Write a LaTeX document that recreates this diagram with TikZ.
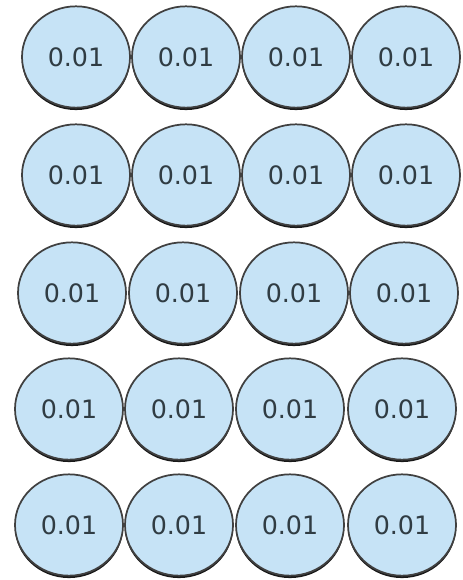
\documentclass[tikz,border=0pt]{standalone}
\usepackage{fontspec}
\usetikzlibrary{shapes.geometric,shadows}
\newfontfamily\cellfont{DejaVu Sans}
\definecolor{cellblue}{HTML}{C6E3F6}
\definecolor{celltext}{HTML}{303C43}
\begin{document}
\begin{tikzpicture}[
  x=0.75pt, y=-0.75pt,
  cell/.style={ellipse, draw=black!75, line width=1.3pt, fill=cellblue,
    minimum width=81pt, minimum height=76pt, inner sep=0pt,
    text=celltext, font=\cellfont\fontsize{19}{19}\selectfont,
    drop shadow={shadow xshift=0pt, shadow yshift=-1.8pt, fill=black, opacity=0.9}}
]
  \useasboundingbox (0,0) rectangle (462,580);
  % Mřížka pravděpodobností 5 x 4
  \node[cell] (a1) at (76, 57) {0.01};
  \node[cell] (a2) at (186, 57) {0.01};
  \node[cell] (a3) at (296, 57) {0.01};
  \node[cell] (a4) at (406, 57) {0.01};
  \node[cell] (b1) at (76, 175) {0.01};
  \node[cell] (b2) at (186, 175) {0.01};
  \node[cell] (b3) at (296, 175) {0.01};
  \node[cell] (b4) at (406, 175) {0.01};
  \node[cell] (c1) at (72, 293) {0.01};
  \node[cell] (c2) at (183, 293) {0.01};
  \node[cell] (c3) at (294, 293) {0.01};
  \node[cell] (c4) at (404, 293) {0.01};
  \node[cell] (d1) at (69, 409) {0.01};
  \node[cell] (d2) at (179, 409) {0.01};
  \node[cell] (d3) at (290, 409) {0.01};
  \node[cell] (d4) at (402, 409) {0.01};
  \node[cell] (e1) at (69, 525) {0.01};
  \node[cell] (e2) at (179, 525) {0.01};
  \node[cell] (e3) at (290, 525) {0.01};
  \node[cell] (e4) at (402, 525) {0.01};
\end{tikzpicture}
\end{document}
